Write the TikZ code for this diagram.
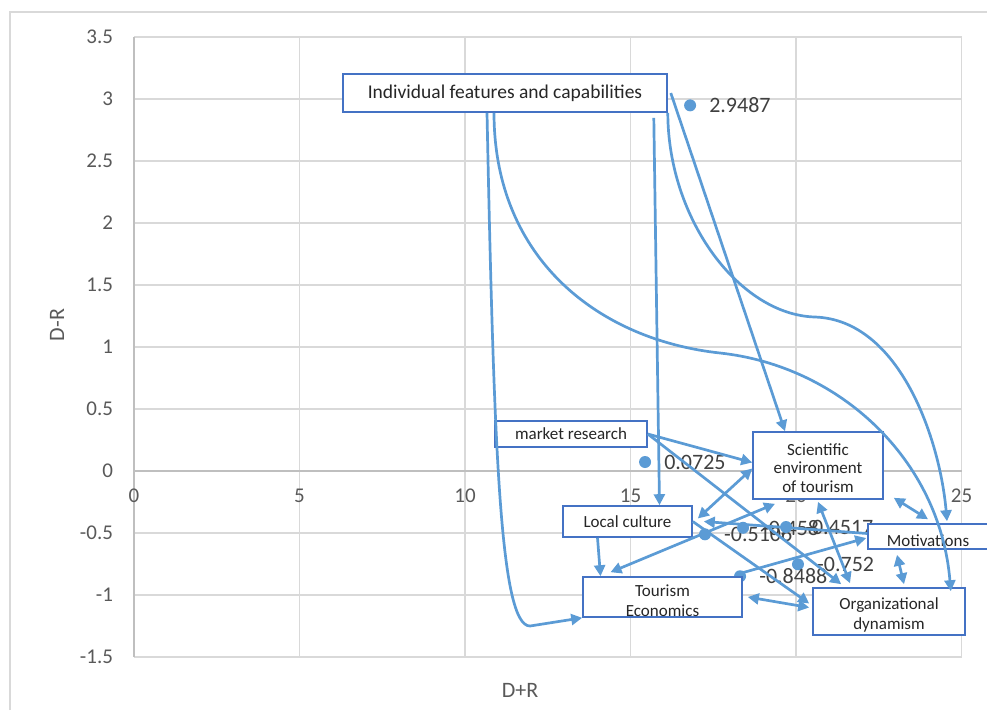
\documentclass[tikz,border=0pt]{standalone}
\usepackage{fontspec}
\setmainfont{Carlito}
\usetikzlibrary{arrows.meta}
\definecolor{rejilla}{HTML}{D9D9D9}
\definecolor{ejes}{HTML}{BFBFBF}
\definecolor{gristxt}{HTML}{595959}
\definecolor{azul}{HTML}{5B9BD5}
\definecolor{borde}{HTML}{4472C4}
\tikzset{
  caja/.style={draw=borde, line width=1.6pt, fill=white, inner sep=0pt, text=black!85,
    font=\fontsize{17}{19.5}\selectfont, align=center},
  flecha/.style={draw=azul, line width=2.7pt},
  marca/.style={text=gristxt, font=\fontsize{21}{24}\selectfont, inner sep=0pt},
  valor/.style={anchor=west, inner sep=0pt, text=black!75, font=\fontsize{22}{24}\selectfont},
}
\begin{document}
\begin{tikzpicture}[x=1pt,y=-1pt,>={Triangle[length=11pt,width=11pt]}]
    \useasboundingbox (0,0) rectangle (987,710);
    \draw[rejilla, line width=1.5pt] (10,710) -- (10,12) -- (987,12);
    % Dibuja la rejilla y los ejes
    \begin{scope}[shift={(134,471)}, x=33.1pt, y=124pt]
        \foreach \xv in {5,10,...,25} {
            \draw[rejilla, line width=1.3pt] (\xv,-1.5) -- (\xv,3.5);
        }
        \foreach \yv in {3.5,3,2.5,2,1.5,1,0.5,-0.5,-1,-1.5} {
            \draw[rejilla, line width=1.3pt] (0,\yv) -- (25,\yv);
        }
        \draw[ejes, line width=1.3pt] (0,0) -- (25,0);
        \draw[ejes, line width=1.5pt] (0,-1.5) -- (0,3.5);
        \foreach \xv in {0,5,10,...,25} {
            \node[marca] (tx\xv) at (\xv,-0.2) {\xv};
        }
        \foreach \yv [count=\i] in {3.5,3,2.5,2,1.5,1,0.5,0,-0.5,-1,-1.5} {
            \node[marca, anchor=east] (ty\i) at (-0.63,\yv) {\yv};
        }
        % Puntos con sus valores
        \foreach \xv/\yv [count=\i] in {16.8/2.9487, 15.44/0.0725, 17.25/-0.5106, 18.4/-0.458,
                                        19.7/-0.4517, 20.06/-0.752, 18.31/-0.8488} {
            \fill[azul] (\xv,\yv) circle (6pt);
            \node[valor, xshift=19pt] (val\i) at (\xv,\yv) {\yv};
        }
    \end{scope}
    \node[text=gristxt, font=\fontsize{22}{24}\selectfont, rotate=90] (ejey) at (57,325) {D-R};
    \node[text=gristxt, font=\fontsize{22}{24}\selectfont] (ejex) at (520,690) {D+R};
    % Cajas de los factores
    \node[caja, minimum width=324pt, minimum height=38pt, font=\fontsize{19.5}{22}\selectfont]
        (indiv) at (505,93) {Individual features and capabilities};
    \node[caja, minimum width=152pt, minimum height=26pt] (mr) at (571,434) {market research};
    \node[caja, minimum width=130pt, minimum height=67pt, font=\fontsize{17}{18.5}\selectfont,
        text height=53pt, text depth=0pt] (sci) at (818,465.5) {Scientific\\environment\\of tourism};
    \node[caja, minimum width=129pt, minimum height=31pt] (lc) at (627.5,521.5) {Local culture};
    \node[caja, minimum width=120pt, minimum height=25pt, text height=20pt, text depth=0pt]
        (motiv) at (928,536.5) {Motivations};
    \node[caja, minimum width=159pt, minimum height=40pt, text height=38pt, text depth=0pt]
        (te) at (662.5,597) {Tourism\\Economics};
    \node[caja, minimum width=152pt, minimum height=47pt, text height=40pt, text depth=5pt]
        (od) at (889,611.5) {Organizational\\dynamism};
    % Relaciones entre factores
    \draw[flecha, ->] ([xshift=-18pt]indiv.south) .. controls (494,450) and (500,626) .. (530,626)
        -- (te.south west);
    \draw[flecha, ->] ([xshift=-11pt]indiv.south) .. controls (494,260) and (600,340) .. (720,353)
        .. controls (840,366) and (940,460) .. ([xshift=-15pt,yshift=-4pt]od.north east);
    \draw[flecha, ->] ([xshift=-14pt,yshift=-5pt]indiv.south east) -- ([xshift=32pt]lc.north);
    \draw[flecha, ->] ([xshift=3pt]indiv.east) -- ([xshift=-33pt]sci.north);
    \draw[flecha, ->] (indiv.south east) .. controls (668,220) and (740,315) .. (815,317)
        .. controls (900,320) and (940,440) .. ([xshift=19pt,yshift=2pt]motiv.north);
    \draw[flecha, ->] (mr.east) -- ([yshift=3pt]sci.west);
    \draw[flecha, ->] (mr.east) -- ([xshift=29pt,yshift=3pt]od.north west);
    \draw[flecha, ->] ([xshift=-30pt]lc.south) -- ([xshift=-62pt]te.north);
    \draw[flecha, <->] ([xshift=-52pt,yshift=4pt]te.north) -- ([xshift=-43pt,yshift=-4pt]sci.south);
    \draw[flecha, <->] ([yshift=-3pt]sci.west) -- ([xshift=5pt,yshift=3pt]lc.east);
    \draw[flecha, ->] ([yshift=3pt]motiv.west) -- ([xshift=11pt]lc.east);
    \draw[flecha, ->] (lc.east) -- ([xshift=-3pt,yshift=8pt]od.west);
    \draw[flecha, <->] ([xshift=5pt]te.east) -- ([xshift=-3pt,yshift=4pt]od.west);
    \draw[flecha, ->] ([xshift=-2pt,yshift=3pt]te.north east) -- ([xshift=-1pt,yshift=-1.5pt]motiv.west);
    \draw[flecha, <->] ([xshift=10pt,yshift=2pt]sci.south east) -- ([yshift=4pt]motiv.north);
    \draw[flecha, <->] ([xshift=-31pt,yshift=-5pt]motiv.south) -- ([xshift=15pt,yshift=3pt]od.north);
    \draw[flecha, <->] ([yshift=-2pt]sci.south) -- ([xshift=-39pt,yshift=4pt]od.north);
\end{tikzpicture}
\end{document}
